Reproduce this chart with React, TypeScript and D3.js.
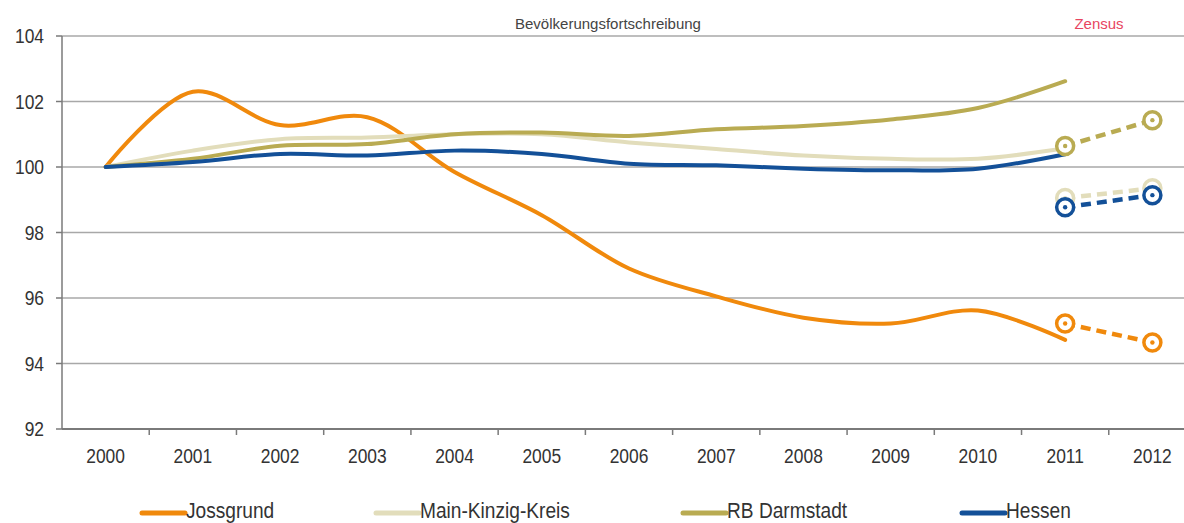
import React from "react";
import * as d3 from "d3";

const years = ["2000", "2001", "2002", "2003", "2004", "2005", "2006", "2007", "2008", "2009", "2010", "2011", "2012"];
const yTicks = [92, 94, 96, 98, 100, 102, 104];

// Bevölkerungsfortschreibung (index 2000 = 100), 2000–2011
const jossgrund = [100, 102.3, 101.28, 101.52, 99.85, 98.53, 96.9, 96.05, 95.4, 95.22, 95.62, 94.72];
const mainKinzig = [100, 100.5, 100.85, 100.9, 101.0, 101.0, 100.75, 100.55, 100.35, 100.25, 100.25, 100.57];
const rbDarmstadt = [100, 100.25, 100.65, 100.7, 101.0, 101.05, 100.95, 101.15, 101.25, 101.45, 101.8, 102.62];
const hessen = [100, 100.15, 100.4, 100.35, 100.5, 100.4, 100.1, 100.05, 99.95, 99.9, 99.95, 100.39];

// Zensus values, 2011 and 2012
const zensusYears = ["2011", "2012"];
const jossgrundZensus = [95.22, 94.64];
const mainKinzigZensus = [99.05, 99.35];
const rbDarmstadtZensus = [100.64, 101.43];
const hessenZensus = [98.77, 99.14];

const seriesNames = ["Jossgrund", "Main-Kinzig-Kreis", "RB Darmstadt", "Hessen"];

const W = 1184;
const H = 523;
const FONT = "'Liberation Sans', Arial, sans-serif";
const NARROW = 0.87;

// Horizontally condensed text, anchored at (x, y)
function NarrowText(props: {
  x: number;
  y: number;
  size: number;
  anchor?: "start" | "middle" | "end";
  fill?: string;
  dy?: string;
  children: React.ReactNode;
}) {
  const { x, y, size, anchor = "start", fill = "#333", dy, children } = props;
  return (
    <text
      transform={`translate(${x},${y}) scale(${NARROW},1)`}
      textAnchor={anchor}
      dy={dy}
      fontFamily={FONT}
      fontSize={size}
      fill={fill}
    >
      {children}
    </text>
  );
}

export default function App() {
  const x = d3.scaleBand<string>().domain(years).range([62, 1196]);
  const y = d3.scaleLinear().domain([92, 104]).range([429, 36]);
  const cx = (yr: string) => (x(yr) as number) + x.bandwidth() / 2;

  const line = d3
    .line<number>()
    .x((_, i) => cx(years[i]))
    .y((v) => y(v))
    .curve(d3.curveCatmullRom.alpha(0.5));

  const series = [
    { name: seriesNames[0], color: "#f0890c", values: jossgrund, zensus: jossgrundZensus },
    { name: seriesNames[1], color: "#e2ddbb", values: mainKinzig, zensus: mainKinzigZensus },
    { name: seriesNames[2], color: "#b9ab52", values: rbDarmstadt, zensus: rbDarmstadtZensus },
    { name: seriesNames[3], color: "#135098", values: hessen, zensus: hessenZensus },
  ];

  const legendX = [142, 376, 683, 962];
  const bandEdges = years.map((yr) => x(yr) as number).slice(1);

  return (
    <div style={{ position: "fixed", left: 0, top: 0 }}>
      <svg width={W} height={H} style={{ display: "block", background: "#fff" }}>
        {/* horizontal gridlines */}
        {yTicks.map((t) => (
          <line
            key={t}
            x1={62}
            x2={1196}
            y1={y(t)}
            y2={y(t)}
            stroke={t === 92 ? "#7a7a7a" : "#a8a8a8"}
            strokeWidth={t === 92 ? 2 : 1.5}
          />
        ))}
        {/* y axis */}
        <line x1={62} x2={62} y1={y(104)} y2={y(92)} stroke="#7a7a7a" strokeWidth={1.5} />
        {yTicks.map((t) => (
          <g key={"yt" + t}>
            <line x1={56} x2={62} y1={y(t)} y2={y(t)} stroke="#7a7a7a" strokeWidth={1.5} />
            <NarrowText x={44} y={y(t)} dy="0.36em" size={20} anchor="end">
              {t}
            </NarrowText>
          </g>
        ))}
        {/* x axis ticks and labels */}
        {bandEdges.map((e, i) => (
          <line key={"xt" + i} x1={e} x2={e} y1={y(92)} y2={y(92) + 6} stroke="#7a7a7a" strokeWidth={1.5} />
        ))}
        {years.map((yr) => (
          <NarrowText key={"xl" + yr} x={cx(yr)} y={463} size={20} anchor="middle">
            {yr}
          </NarrowText>
        ))}

        {/* section headings */}
        <text x={608} y={29} textAnchor="middle" fontFamily={FONT} fontSize={15} fill="#444">
          Bevölkerungsfortschreibung
        </text>
        <text x={1099} y={29} textAnchor="middle" fontFamily={FONT} fontSize={15} fill="#e8455f">
          Zensus
        </text>

        {/* Fortschreibung lines */}
        {series.map((s) => (
          <path
            key={s.name}
            d={line(s.values) || ""}
            fill="none"
            stroke={s.color}
            strokeWidth={4}
            strokeLinecap="round"
            strokeLinejoin="round"
          />
        ))}

        {/* Zensus dashed segments with ring markers */}
        {series.map((s) => (
          <g key={"z" + s.name}>
            <line
              x1={cx(zensusYears[0])}
              x2={cx(zensusYears[1])}
              y1={y(s.zensus[0])}
              y2={y(s.zensus[1])}
              stroke={s.color}
              strokeWidth={4.5}
              strokeDasharray="10 6"
            />
            {s.zensus.map((v, i) => (
              <g key={i}>
                <circle cx={cx(zensusYears[i])} cy={y(v)} r={8.5} fill="#fff" stroke={s.color} strokeWidth={3.5} />
                <circle cx={cx(zensusYears[i])} cy={y(v)} r={2.2} fill={s.color} />
              </g>
            ))}
          </g>
        ))}

        {/* legend */}
        {series.map((s, i) => (
          <g key={"lg" + s.name}>
            <line
              x1={legendX[i]}
              x2={legendX[i] + 43}
              y1={513}
              y2={513}
              stroke={s.color}
              strokeWidth={5}
              strokeLinecap="round"
            />
            <NarrowText x={legendX[i] + 44} y={518} size={22}>
              {s.name}
            </NarrowText>
          </g>
        ))}
      </svg>
    </div>
  );
}
